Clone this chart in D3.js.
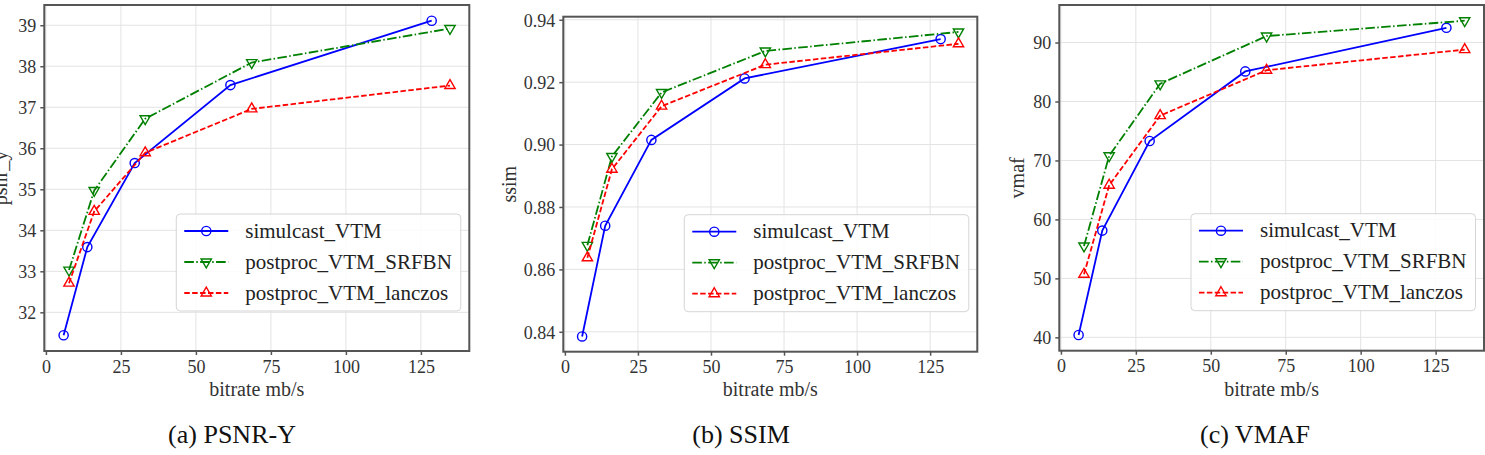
<!DOCTYPE html>
<html>
<head>
<meta charset="utf-8">
<script src="https://cdn.jsdelivr.net/npm/d3@7"></script>
<style>
  body { margin: 0; background: #fff; }
  svg { display: block; font-family: "Liberation Serif", "Times New Roman", serif; }
  .tick text { fill: #333; font-size: 18px; font-family: "Liberation Serif", "Times New Roman", serif; }
  .tick line { stroke: #555; stroke-width: 1.5; }
</style>
</head>
<body>
<div id="chart"></div>
<script>
const width = 1485;
const height = 455;

// bitrate (mb/s) of each rate point
const bitrateSim = [5.9, 13.8, 29.6, 61.5, 128.6];
const bitratePost = [7.7, 16.1, 33.1, 68.6, 134.7];

const seriesNames = ["simulcast_VTM", "postproc_VTM_SRFBN", "postproc_VTM_lanczos"];

const psnrSim = [31.44, 33.59, 35.64, 37.54, 39.11];
const psnrSrfbn = [33.03, 34.97, 36.72, 38.09, 38.92];
const psnrLanczos = [32.71, 34.46, 35.89, 36.96, 37.53];

const ssimSim = [0.8385, 0.874, 0.9015, 0.9212, 0.9338];
const ssimSrfbn = [0.8677, 0.8962, 0.9167, 0.930, 0.9361];
const ssimLanczos = [0.8637, 0.8921, 0.9123, 0.9256, 0.9323];

const vmafSim = [40.4, 58.1, 73.3, 85.1, 92.5];
const vmafSrfbn = [55.5, 70.8, 83.0, 91.1, 93.7];
const vmafLanczos = [50.7, 65.8, 77.6, 85.3, 88.8];

const xTicks = [0, 25, 50, 75, 100, 125];
const psnrTicks = [32, 33, 34, 35, 36, 37, 38, 39];
const ssimTicks = [0.84, 0.86, 0.88, 0.90, 0.92, 0.94];
const vmafTicks = [40, 50, 60, 70, 80, 90];

const captions = ["(a) PSNR-Y", "(b) SSIM", "(c) VMAF"];
const yLabels = ["psnr_y", "ssim", "vmaf"];

// line styles for the three series
const colors = ["#0000ff", "#008000", "#ff0000"];
const dashes = [null, "9.6,2.4,1.5,2.4", "5.5,2.4"];
const markers = ["circle", "down", "up"];

const serif = "'Liberation Serif', 'Times New Roman', serif";

const panels = [
    { left: 44.3, right: 469.3, top: 5, bottom: 351, series: [psnrSim, psnrSrfbn, psnrLanczos],
      ticks: psnrTicks, fmt: d3.format("d"), ylabelX: 7, captionX: 232 },
    { left: 563.3, right: 977.3, top: 16.7, bottom: 351.7, series: [ssimSim, ssimSrfbn, ssimLanczos],
      ticks: ssimTicks, fmt: d3.format(".2f"), ylabelX: 515.5, captionX: 741 },
    { left: 1059.3, right: 1484, top: 5, bottom: 350.7, series: [vmafSim, vmafSrfbn, vmafLanczos],
      ticks: vmafTicks, fmt: d3.format("d"), ylabelX: 1023.5, captionX: 1255 }
];

const svg = d3.select("#chart")
    .append("svg")
    .attr("width", width)
    .attr("height", height);

// matplotlib style 5% margins
function padded(values) {
    const [a, b] = d3.extent(values);
    const m = (b - a) * 0.05;
    return [a - m, b + m];
}

const xDomain = padded(bitrateSim.concat(bitratePost));

function drawMarker(sel, type, color) {
    if (type === "circle") {
        sel.append("circle").attr("r", 4.6)
            .attr("fill", "none").attr("stroke", color).attr("stroke-width", 1.4);
    } else {
        sel.append("path")
            .attr("d", d3.symbol(d3.symbolTriangle, 46)())
            .attr("transform", type === "down" ? "rotate(180)" : null)
            .attr("fill", "none").attr("stroke", color).attr("stroke-width", 1.4);
    }
}

panels.forEach((p, pi) => {
    const x = d3.scaleLinear().domain(xDomain).range([p.left, p.right]);
    const allY = p.series.flat();
    const y = d3.scaleLinear().domain(padded(allY)).range([p.bottom, p.top]);

    const g = svg.append("g");

    // grid
    g.append("g").selectAll("line").data(xTicks).join("line")
        .attr("x1", d => x(d)).attr("x2", d => x(d))
        .attr("y1", p.top).attr("y2", p.bottom)
        .attr("stroke", "#e3e3e3").attr("stroke-width", 1);
    g.append("g").selectAll("line").data(p.ticks).join("line")
        .attr("y1", d => y(d)).attr("y2", d => y(d))
        .attr("x1", p.left).attr("x2", p.right)
        .attr("stroke", "#e3e3e3").attr("stroke-width", 1);

    // axes
    const xAxis = g.append("g")
        .attr("transform", `translate(0,${p.bottom})`)
        .call(d3.axisBottom(x).tickValues(xTicks).tickSize(4).tickPadding(5));
    const yAxis = g.append("g")
        .attr("transform", `translate(${p.left},0)`)
        .call(d3.axisLeft(y).tickValues(p.ticks).tickFormat(p.fmt).tickSize(4).tickPadding(4));
    [xAxis, yAxis].forEach(a => {
        a.select(".domain").remove();
        a.attr("font-family", serif).attr("font-size", 18);
        a.selectAll(".tick text").style("font-family", serif).style("font-size", "18px");
    });
    yAxis.selectAll("text").attr("dy", "0.35em");

    // data lines
    p.series.forEach((vals, si) => {
        const xs = si === 0 ? bitrateSim : bitratePost;
        const pts = vals.map((v, i) => [xs[i], v]);
        g.append("path")
            .datum(pts)
            .attr("fill", "none")
            .attr("stroke", colors[si])
            .attr("stroke-width", 1.8)
            .attr("stroke-dasharray", dashes[si])
            .attr("d", d3.line().x(d => x(d[0])).y(d => y(d[1])));
        g.append("g").selectAll("g").data(pts).join("g")
            .attr("transform", d => `translate(${x(d[0])},${y(d[1])})`)
            .each(function() { drawMarker(d3.select(this), markers[si], colors[si]); });
    });

    // frame
    g.append("rect")
        .attr("x", p.left).attr("y", p.top)
        .attr("width", p.right - p.left).attr("height", p.bottom - p.top)
        .attr("fill", "none").attr("stroke", "#555").attr("stroke-width", 2);

    // legend, anchored at lower right
    const legend = g.append("g");
    const box = legend.append("rect")
        .attr("rx", 4).attr("ry", 4)
        .attr("fill", "#fff").attr("fill-opacity", 0.85)
        .attr("stroke", "#d5d5d5").attr("stroke-width", 1);
    const texts = [];
    seriesNames.forEach((name, si) => {
        const row = legend.append("g").attr("transform", `translate(0,${17 + si * 31})`);
        row.append("line")
            .attr("x1", 8).attr("x2", 52)
            .attr("stroke", colors[si]).attr("stroke-width", 1.8)
            .attr("stroke-dasharray", dashes[si]);
        drawMarker(row.append("g").attr("transform", "translate(30,0)"), markers[si], colors[si]);
        texts.push(row.append("text")
            .attr("x", 69).attr("dy", "0.32em")
            .attr("font-size", 21).attr("fill", "#222")
            .text(name));
    });
    const textW = d3.max(texts, t => t.node().getComputedTextLength());
    const boxW = 69 + textW + 9;
    const boxH = 97;
    box.attr("width", boxW).attr("height", boxH);
    legend.attr("transform", `translate(${p.right - 8.5 - boxW},${p.bottom - 40 - boxH})`);

    // labels
    g.append("text")
        .attr("x", (p.left + p.right) / 2).attr("y", 396)
        .attr("text-anchor", "middle").attr("font-size", 20).attr("fill", "#333")
        .text("bitrate mb/s");
    g.append("text")
        .attr("transform", `translate(${p.ylabelX},${(p.top + p.bottom) / 2}) rotate(-90)`)
        .attr("text-anchor", "middle").attr("font-size", 20).attr("fill", "#333")
        .text(yLabels[pi]);
    g.append("text")
        .attr("x", p.captionX).attr("y", 443)
        .attr("text-anchor", "middle").attr("font-size", 26).attr("fill", "#111")
        .text(captions[pi]);
});
</script>
</body>
</html>
